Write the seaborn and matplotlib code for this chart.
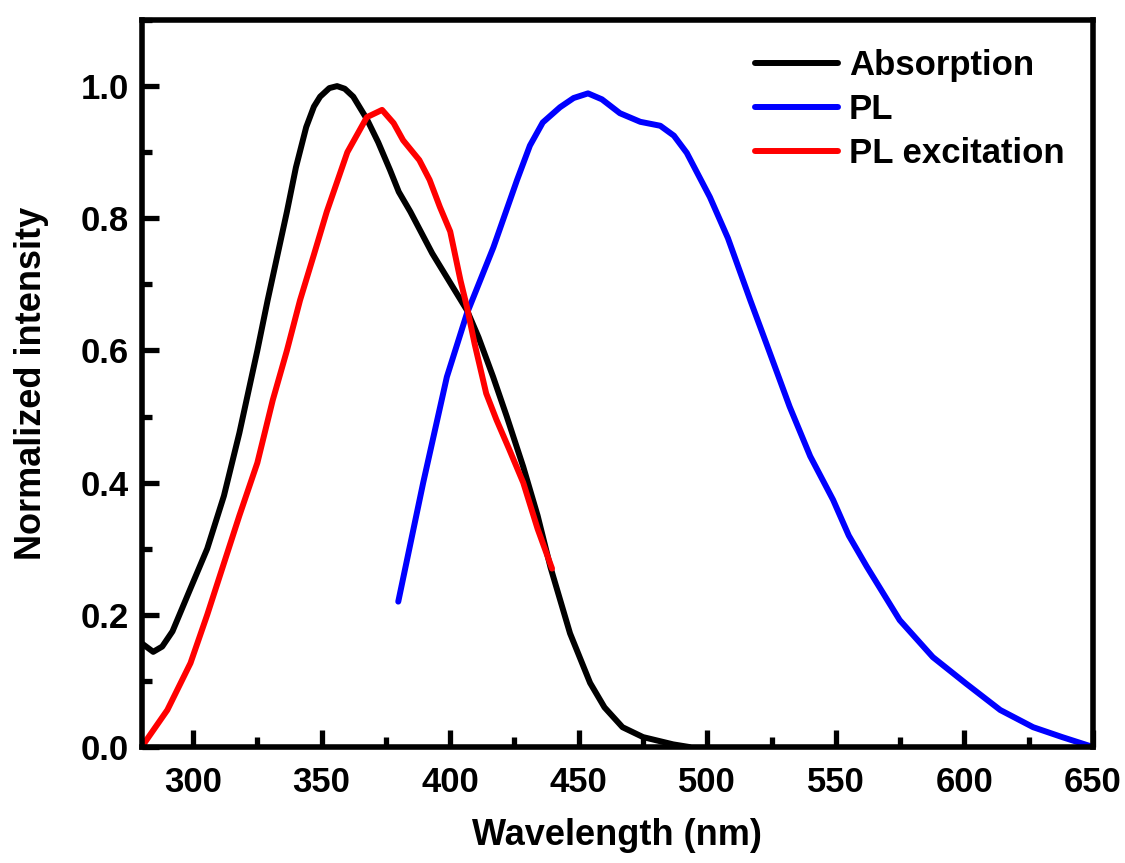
import matplotlib
matplotlib.use("Agg")
import matplotlib.pyplot as plt
import seaborn as sns
import pandas as pd
from matplotlib.ticker import MultipleLocator

# ---- data ----
abs_x = [280, 284.5, 288, 292, 299, 305.5, 312, 318, 325, 329, 336.5, 340, 344, 347,
         349.4, 353, 356, 359, 362.3, 367.6, 372, 376.6, 380, 384.5, 393, 401, 406.5,
         411, 416.7, 422, 428.4, 434, 439, 446.6, 454.4, 460, 467, 475, 486.7, 493]
abs_y = [0.157, 0.144, 0.152, 0.175, 0.24, 0.30, 0.38, 0.475, 0.60, 0.676, 0.81, 0.877,
         0.938, 0.969, 0.984, 0.997, 1.0, 0.996, 0.984, 0.95, 0.915, 0.873, 0.84, 0.81,
         0.747, 0.696, 0.661, 0.62, 0.56, 0.50, 0.424, 0.35, 0.272, 0.172, 0.097, 0.06,
         0.03, 0.015, 0.004, 0.0]

pl_x = [379.8, 389.5, 398.7, 406.5, 416.8, 426, 431, 436, 442.7, 448, 453.6, 459, 466,
        473.9, 481.7, 487, 492, 501, 508, 516.7, 523, 532, 540, 548.9, 555, 562, 574.8,
        587.7, 600.6, 613.9, 626.7, 638, 650]
pl_y = [0.22, 0.40, 0.56, 0.656, 0.756, 0.858, 0.91, 0.945, 0.968, 0.982, 0.989, 0.98,
        0.959, 0.946, 0.94, 0.925, 0.899, 0.832, 0.77, 0.676, 0.61, 0.515, 0.44, 0.374,
        0.32, 0.273, 0.192, 0.136, 0.096, 0.056, 0.03, 0.015, 0.0]

ple_x = [280, 290, 299, 305.5, 313, 318, 325, 331, 336.5, 341.6, 347, 352, 360, 367.6,
         373.5, 378, 381.7, 388, 392, 396, 400, 404, 406.5, 409.5, 412.8, 414, 418, 423,
         428.4, 434, 439.6]
ple_y = [0.0, 0.056, 0.127, 0.20, 0.29, 0.35, 0.43, 0.525, 0.60, 0.676, 0.745, 0.81,
         0.90, 0.953, 0.964, 0.944, 0.918, 0.888, 0.858, 0.817, 0.78, 0.706, 0.666,
         0.61, 0.555, 0.535, 0.495, 0.45, 0.40, 0.33, 0.27]

series_names = ["Absorption", "PL", "PL excitation"]
series_colors = ["#000000", "#0000ff", "#ff0000"]

x_ticks = [300, 350, 400, 450, 500, 550, 600, 650]
y_ticks = [0.0, 0.2, 0.4, 0.6, 0.8, 1.0]

# ---- style ----
sns.set_theme(style="ticks")
plt.rcParams["font.family"] = ["Liberation Sans", "DejaVu Sans"]
plt.rcParams["font.weight"] = "bold"
for k in ["text.color", "axes.labelcolor", "xtick.color", "ytick.color",
          "axes.edgecolor"]:
    plt.rcParams[k] = "black"

fig = plt.figure(figsize=(11.25, 8.63), dpi=100)
ax = fig.add_axes([0.1259, 0.1344, 0.9716 - 0.1259, 0.9768 - 0.1344])
ax.set_facecolor("white")

frames = [
    pd.DataFrame({"x": abs_x, "y": abs_y, "s": series_names[0]}),
    pd.DataFrame({"x": pl_x, "y": pl_y, "s": series_names[1]}),
    pd.DataFrame({"x": ple_x, "y": ple_y, "s": series_names[2]}),
]
df = pd.concat(frames, ignore_index=True)

sns.lineplot(data=df, x="x", y="y", hue="s", hue_order=series_names,
             palette=series_colors, sort=False, estimator=None, linewidth=4.3,
             ax=ax)
for ln in ax.get_lines():
    ln.set_solid_joinstyle("round")
    ln.set_solid_capstyle("round")

ax.set_xlim(280, 650)
ax.set_ylim(0, 1.1)
ax.set_xticks(x_ticks)
ax.set_yticks(y_ticks)
ax.set_xticklabels([str(v) for v in x_ticks])
ax.set_yticklabels([f"{v:.1f}" for v in y_ticks])
ax.xaxis.set_minor_locator(MultipleLocator(25))
ax.yaxis.set_minor_locator(MultipleLocator(0.1))

ax.tick_params(axis="both", which="major", direction="in", length=12, width=3.8,
               labelsize=25, top=False, right=False, colors="black")
ax.tick_params(axis="both", which="minor", direction="in", length=7, width=3.8,
               top=False, right=False, colors="black")
ax.tick_params(axis="x", which="major", pad=14)
ax.tick_params(axis="y", which="major", pad=9)
for lab in ax.get_xticklabels() + ax.get_yticklabels():
    lab.set_fontweight("bold")

for sp in ax.spines.values():
    sp.set_linewidth(4.0)
    sp.set_color("black")
    sp.set_visible(True)

ax.set_xlabel("Wavelength (nm)", fontsize=26, fontweight="bold", labelpad=13)
ax.set_ylabel("Normalized intensity", fontsize=26, fontweight="bold", labelpad=23)

leg = ax.legend(loc="upper right", bbox_to_anchor=(0.97, 0.96), frameon=False,
                fontsize=25, handlelength=2.4, handletextpad=0.3, labelspacing=0.32,
                borderaxespad=0.0, borderpad=0.0)
for t in leg.get_texts():
    t.set_fontweight("bold")
    t.set_color("black")
for h in leg.get_lines():
    h.set_linewidth(4.3)

fig.savefig("out.png", dpi=100, facecolor="white")
